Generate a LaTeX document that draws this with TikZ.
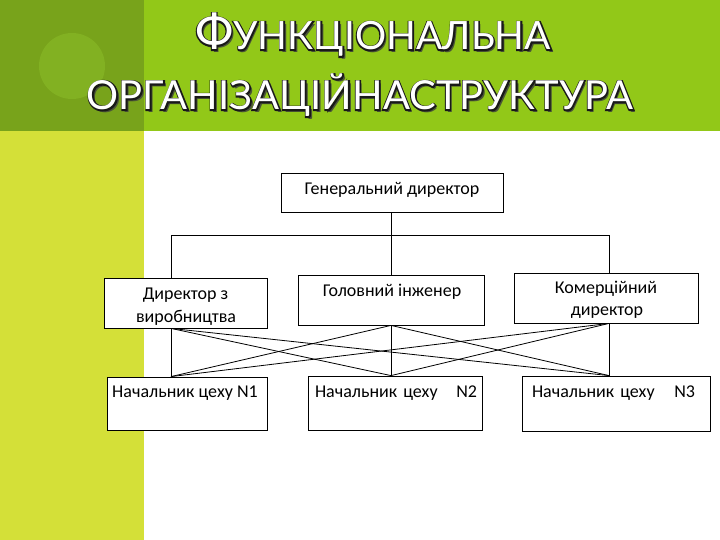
\documentclass[tikz,border=0pt]{standalone}
\usepackage{fontspec}
\setmainfont{Carlito}
\newfontfamily\titlefont{Lato}
\definecolor{darkgreen}{RGB}{120,163,27}
\definecolor{brightgreen}{RGB}{146,200,24}
\definecolor{circlegreen}{RGB}{130,177,34}
\definecolor{yellowgreen}{RGB}{212,224,56}
\definecolor{shadowcol}{RGB}{75,85,55}
\newcommand{\strokeon}{\special{pdf:literal 0.1 0.1 0.1 RG 1 Tr 2.4 w}}
\newcommand{\strokeoff}{\special{pdf:literal 0 Tr}}
% shadow, dark outline, white fill, all in one box
\newcommand{\fancytitle}[1]{%
  \rlap{\kern2.5pt\raisebox{-2.5pt}{\color{shadowcol}#1}}%
  \rlap{\strokeon#1\strokeoff}%
  #1}
\newcommand{\titleA}{{\fontsize{49}{49}\selectfont Ф}{\fontsize{39}{39}\selectfont УНКЦІОНАЛЬНА}}
\newcommand{\titleB}{{\fontsize{40}{40}\selectfont ОРГАНІЗАЦІЙНАСТРУКТУРА}}
\tikzset{
  box/.style={draw=black, line width=0.8pt, fill=white, inner sep=0pt},
  txt/.style={font=\fontsize{18}{22}\selectfont, anchor=base, inner sep=0pt},
  ttl/.style={font=\titlefont, anchor=base, inner sep=0pt, text=white},
  conn/.style={draw=black, line width=0.8pt}
}
\begin{document}
\begin{tikzpicture}[x=1pt,y=-1pt]
\useasboundingbox (0,0) rectangle (720,540);
% background
\fill[brightgreen] (0,0) rectangle (720,131);
\fill[darkgreen] (0,0) rectangle (144,131);
\fill[yellowgreen] (0,131) rectangle (144,540);
\fill[circlegreen] (72,66) circle (33pt);
% title
\node[ttl] (ta) at (373,50) {\fancytitle{\titleA}};
\node[ttl] (tb) at (360,110) {\fancytitle{\titleB}};
% boxes
\node[box, minimum width=222pt, minimum height=39pt] (gd) at (392,192.5) {};
\node[box, minimum width=163pt, minimum height=50pt] (d1) at (185.5,303) {};
\node[box, minimum width=186pt, minimum height=50pt] (d2) at (391,300) {};
\node[box, minimum width=184pt, minimum height=50pt] (d3) at (606,298) {};
\node[box, minimum width=160pt, minimum height=53pt] (c1) at (187,403.5) {};
\node[box, minimum width=174pt, minimum height=54pt] (c2) at (395,403) {};
\node[box, minimum width=188pt, minimum height=55pt] (c3) at (616,403.5) {};
% texts
\node[txt] (gdt) at (392,195) {Генеральний директор};
\node[txt] (d1t1) at (185.5,299) {Директор з};
\node[txt] (d1t2) at (186,322) {виробництва};
\node[txt] (d2t) at (392,296) {Головний інженер};
\node[txt] (d3t1) at (606,293) {Комерційний};
\node[txt] (d3t2) at (607,315) {директор};
\node[txt] (c1t) at (185,397) {Начальник цеху N1};
\node[txt, text width=162pt] (c2t) at (396,397) {Начальник цеху\hfill N2};
\node[txt, text width=163pt] (c3t) at (613.5,397) {Начальник цеху\hfill N3};
% connectors
\coordinate (hl) at (171,235);
\coordinate (hr) at (609,235);
\coordinate (hm) at (391,235);
\draw[conn] (gd.south -| hm) -- (hm);
\draw[conn] (hl) -- (hr);
\draw[conn] (hl) -- (hl |- d1.north);
\draw[conn] (hm) -- (hm |- d2.north);
\draw[conn] (hr) -- (hr |- d3.north);
\coordinate (p1) at (d1.south -| hl);
\coordinate (p2) at (d2.south -| hm);
\coordinate (p3) at (d3.south -| hr);
\coordinate (q1) at (c1.north -| hl);
\coordinate (q2) at (c2.north -| hm);
\coordinate (q3) at (c3.north -| hr);
\foreach \i in {1,2,3}{
  \foreach \j in {1,2,3}{
    \draw[conn] (p\i) -- (q\j);
  }
}
\end{tikzpicture}
\end{document}
